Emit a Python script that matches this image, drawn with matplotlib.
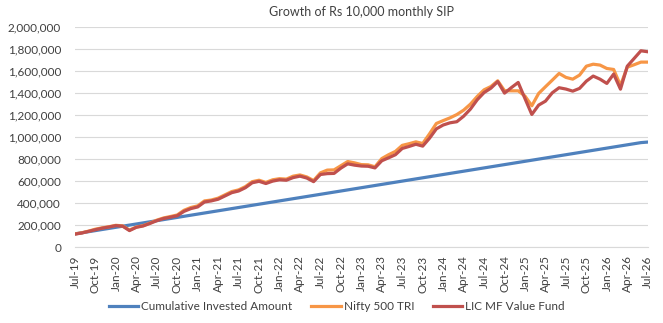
import matplotlib
matplotlib.use("Agg")
import matplotlib.pyplot as plt
from matplotlib.ticker import FuncFormatter
import pandas as pd

title = "Growth of Rs 10,000 monthly SIP"
series_names = ["Cumulative Invested Amount", "Nifty 500 TRI", "LIC MF Value Fund"]

months = pd.date_range("2019-07-01", "2026-07-01", freq="MS")
month_labels = [d.strftime("%b-%y") for d in months]

invested = [120000, 130000, 140000, 150000, 160000, 170000, 180000, 190000, 200000, 210000,
            220000, 230000, 240000, 250000, 260000, 270000, 280000, 290000, 300000, 310000,
            320000, 330000, 340000, 350000, 360000, 370000, 380000, 390000, 400000, 410000,
            420000, 430000, 440000, 450000, 460000, 470000, 480000, 490000, 500000, 510000,
            520000, 530000, 540000, 550000, 560000, 570000, 580000, 590000, 600000, 610000,
            620000, 630000, 640000, 650000, 660000, 670000, 680000, 690000, 700000, 710000,
            720000, 730000, 740000, 750000, 760000, 770000, 780000, 790000, 800000, 810000,
            820000, 830000, 840000, 850000, 860000, 870000, 880000, 890000, 900000, 910000,
            920000, 930000, 940000, 950000, 955000]

nifty500 = [120, 130, 145, 163, 175, 185, 198, 193, 155, 182,
            195, 218, 245, 265, 278, 292, 335, 360, 375, 420,
            428, 445, 475, 505, 520, 550, 595, 608, 588, 612,
            622, 618, 645, 656, 638, 605, 675, 700, 702, 740,
            778, 766, 750, 748, 730, 805, 840, 870, 925, 940,
            957, 942, 1030, 1124, 1150, 1175, 1205, 1245, 1300, 1370,
            1430, 1460, 1512, 1422, 1421, 1421, 1373, 1285, 1397, 1458,
            1518, 1579, 1543, 1527, 1564, 1645, 1663, 1655, 1624, 1615,
            1470, 1636, 1658, 1682, 1682]

lic_value = [118, 128, 143, 158, 172, 183, 195, 190, 150, 180,
             192, 215, 240, 260, 272, 285, 325, 350, 365, 410,
             420, 435, 465, 495, 510, 540, 585, 598, 578, 600,
             612, 608, 632, 645, 628, 595, 660, 668, 670, 718,
             757, 745, 737, 735, 720, 785, 812, 840, 897, 915,
             935, 918, 990, 1075, 1110, 1130, 1140, 1190, 1255, 1340,
             1405, 1445, 1505, 1400, 1450, 1497, 1350, 1206, 1291, 1327,
             1403, 1449, 1437, 1418, 1443, 1509, 1555, 1527, 1488, 1573,
             1436, 1645, 1715, 1785, 1776]

nifty500 = [v * 1000 for v in nifty500]
lic_value = [v * 1000 for v in lic_value]

colors = ["#4F81BD", "#F79646", "#C0504D"]

plt.rcParams['font.family'] = ['Lato', 'DejaVu Sans']

fig = plt.figure(figsize=(6.63, 3.23), dpi=100)
ax = fig.add_axes([0.113, 0.235, 0.864, 0.681])

x = list(range(len(months)))
for vals, name, c in zip([invested, nifty500, lic_value], series_names, colors):
    ax.plot(x, vals, color=c, lw=2.3, label=name, solid_joinstyle="round")

ax.set_xlim(0, len(months) - 1)
ax.set_ylim(0, 2000000)
ax.set_yticks(range(0, 2000001, 200000))
ax.yaxis.set_major_formatter(FuncFormatter(lambda v, p: f"{int(v):,}"))
ax.set_xticks(x[::3])
ax.set_xticklabels(month_labels[::3], rotation=90, fontsize=8.5, color="#404040")
ax.tick_params(axis="y", labelsize=8.5, colors="#404040", length=0, pad=10)
ax.tick_params(axis="x", length=0, pad=6)
ax.grid(axis="y", color="#D9D9D9", lw=0.8)
ax.set_axisbelow(True)
for s in ["top", "right", "left"]:
    ax.spines[s].set_visible(False)
ax.spines["bottom"].set_color("#D9D9D9")
ax.spines["bottom"].set_linewidth(0.8)

fig.text(0.545, 0.962, title, ha="center", va="center", fontsize=9, color="#404040")
fig.legend(loc="center", bbox_to_anchor=(0.508, 0.05), ncol=3, frameon=False,
           fontsize=8.5, handlelength=2.5, columnspacing=1.6, handletextpad=0.25,
           labelcolor="#404040")

fig.savefig("out.png", dpi=100)
